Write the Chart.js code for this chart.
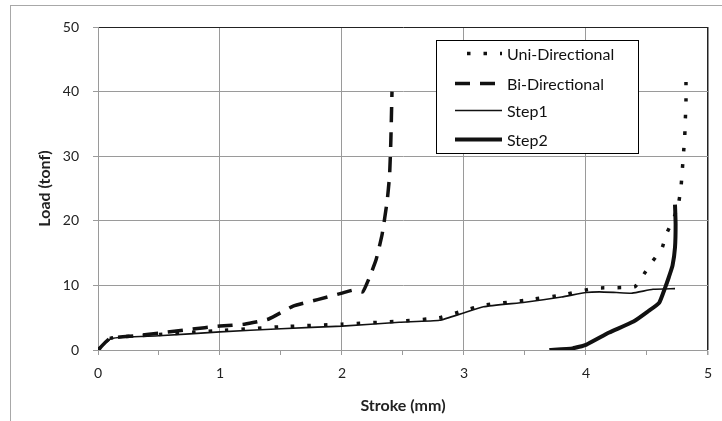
<!DOCTYPE html>
<html>
<head>
<meta charset="utf-8">
<script src="https://cdn.jsdelivr.net/npm/chart.js@4"></script>
<style>
  html, body { margin: 0; padding: 0; background: #fff; }
  #wrap { position: relative; width: 722px; height: 421px; }
  #frame { position: absolute; left: 10px; top: 5px; width: 740px; height: 440px;
           border-left: 1px solid #a8a8a8; border-top: 1px solid #a8a8a8; }
  canvas { position: absolute; left: 0; top: 0; }
</style>
</head>
<body>
<div id="wrap">
  <div id="frame"></div>
  <canvas id="chart" width="722" height="421"></canvas>
</div>
<script>
// series values: stroke (mm) / load (tonf)
const uniStroke = [0, 0.1, 0.5, 1.0, 1.5, 2.0, 2.5, 2.8, 3.0, 3.15, 3.5, 3.8, 4.0, 4.1, 4.4, 4.46, 4.54, 4.62, 4.66, 4.72, 4.76, 4.78, 4.79, 4.80, 4.81, 4.815, 4.82, 4.82];
const uniLoad   = [0, 1.8, 2.4, 3.0, 3.6, 4.0, 4.5, 5.0, 6.1, 6.9, 7.7, 8.5, 9.3, 9.6, 9.8, 11.3, 13.6, 15.6, 18.0, 20.4, 22.8, 25.4, 27.9, 30.5, 33.2, 35.8, 38.5, 41.5];

const biStroke = [0, 0.1, 0.3, 0.5, 0.75, 1.0, 1.2, 1.4, 1.6, 1.8, 2.0, 2.1, 2.17, 2.22, 2.28, 2.33, 2.37, 2.39, 2.40, 2.41];
const biLoad   = [0, 1.8, 2.2, 2.6, 3.2, 3.7, 4.0, 4.8, 6.8, 7.8, 8.8, 9.3, 9.0, 11.0, 14.0, 18.0, 23.0, 27.0, 32.0, 40.0];

const step1Stroke = [0, 0.11, 0.5, 1.0, 1.5, 2.0, 2.47, 2.8, 2.99, 3.16, 3.5, 3.8, 4.0, 4.11, 4.25, 4.38, 4.55, 4.73];
const step1Load   = [0, 1.8, 2.2, 2.8, 3.3, 3.7, 4.3, 4.6, 5.7, 6.7, 7.4, 8.2, 8.9, 9.0, 8.9, 8.8, 9.4, 9.5];

const step2Stroke = [3.70, 3.89, 4.0, 4.19, 4.39, 4.51, 4.60, 4.65, 4.68, 4.71, 4.73, 4.735, 4.73];
const step2Load   = [0, 0.25, 0.8, 2.7, 4.4, 6.0, 7.3, 9.7, 11.3, 13.1, 15.9, 19.5, 22.5];

const seriesNames = ['Uni-Directional', 'Bi-Directional', 'Step1', 'Step2'];
const xTicks = [0, 1, 2, 3, 4, 5];
const yTicks = [0, 10, 20, 30, 40, 50];

const FONT = 'Lato, "Open Sans", sans-serif';
const INK = '#111';

const pts = (xs, ys) => xs.map((x, i) => ({ x, y: ys[i] }));

/* legend drawn inside the plot, like the Excel box */
const boxLegend = {
  id: 'boxLegend',
  afterDraw(chart) {
    const c = chart.ctx;
    const x0 = 436, y0 = 40, w = 202, h = 113;
    c.save();
    c.fillStyle = '#fff';
    c.fillRect(x0, y0, w, h);
    c.strokeStyle = '#000';
    c.lineWidth = 1;
    c.strokeRect(x0 + 0.5, y0 + 0.5, w, h);
    const rows = [53.5, 83.5, 110.5, 139.5];
    chart.data.datasets.forEach((ds, i) => {
      c.beginPath();
      c.setLineDash(ds.borderDash || []);
      c.lineDashOffset = ds.legendDashOffset || 0;
      c.lineWidth = ds.borderWidth;
      c.strokeStyle = ds.borderColor;
      c.moveTo(455, rows[i]);
      c.lineTo(502, rows[i]);
      c.stroke();
      c.setLineDash([]);
      c.fillStyle = '#111';
      c.font = '16px ' + FONT;
      c.textBaseline = 'middle';
      c.fillText(ds.label, 507, rows[i] + 1);
    });
    c.restore();
  }
};

new Chart(document.getElementById('chart'), {
  type: 'line',
  data: {
    datasets: [
      { label: seriesNames[0], data: pts(uniStroke, uniLoad), borderColor: INK, borderWidth: 3.5,
        borderDash: [3.5, 13], borderCapStyle: 'butt', legendDashOffset: -12 },
      { label: seriesNames[1], data: pts(biStroke, biLoad), borderColor: INK, borderWidth: 3.5,
        borderDash: [15, 10], borderCapStyle: 'butt' },
      { label: seriesNames[2], data: pts(step1Stroke, step1Load), borderColor: INK, borderWidth: 1.6 },
      { label: seriesNames[3], data: pts(step2Stroke, step2Load), borderColor: INK, borderWidth: 4 },
    ].map(d => Object.assign({ pointRadius: 0, tension: 0.15, fill: false }, d)),
  },
  options: {
    responsive: false,
    animation: false,
    layout: { padding: { left: 0, right: 14, top: 27, bottom: 0 } },
    plugins: { legend: { display: false }, tooltip: { enabled: false } },
    scales: {
      x: {
        type: 'linear',
        min: 0, max: 5,
        afterFit: s => { s.height = 71; },
        afterBuildTicks: s => {
          const t = [];
          for (let i = 0; i <= 10; i++) t.push({ value: i / 2 });
          s.ticks = t;
        },
        border: { color: '#9a9a9a', width: 1 },
        grid: {
          color: c => (c.tick && c.tick.value % 1 !== 0) ? 'rgba(0,0,0,0)'
                      : (c.tick && c.tick.value === 5 ? '#222' : '#9a9a9a'),
          tickColor: '#9a9a9a',
          tickLength: 5,
          lineWidth: c => (c.tick && c.tick.value === 5 ? 1.5 : 1),
        },
        ticks: {
          color: '#222',
          font: { family: FONT, size: 14 },
          padding: 10,
          maxRotation: 0,
          autoSkip: false,
          callback: v => xTicks.includes(v) ? String(v) : '',
        },
        title: {
          display: true, text: 'Stroke (mm)', color: '#222',
          font: { family: FONT, size: 16, weight: 'bold' },
          padding: { top: 0, bottom: 6 },
        },
      },
      y: {
        min: 0, max: 50,
        afterFit: s => { s.width = 98; },
        afterBuildTicks: s => { s.ticks = yTicks.map(v => ({ value: v })); },
        border: { color: '#9a9a9a', width: 1 },
        grid: {
          color: c => (c.tick && c.tick.value === 50 ? '#222' : '#9a9a9a'),
          tickColor: '#9a9a9a',
          tickLength: 5,
        },
        ticks: {
          color: '#222',
          font: { family: FONT, size: 14 },
          padding: 14,
        },
        title: {
          display: true, text: 'Load (tonf)', color: '#222',
          font: { family: FONT, size: 16, weight: 'bold' },
          padding: { top: 35, bottom: 0 },
        },
      },
    },
  },
  plugins: [boxLegend],
});
</script>
</body>
</html>
